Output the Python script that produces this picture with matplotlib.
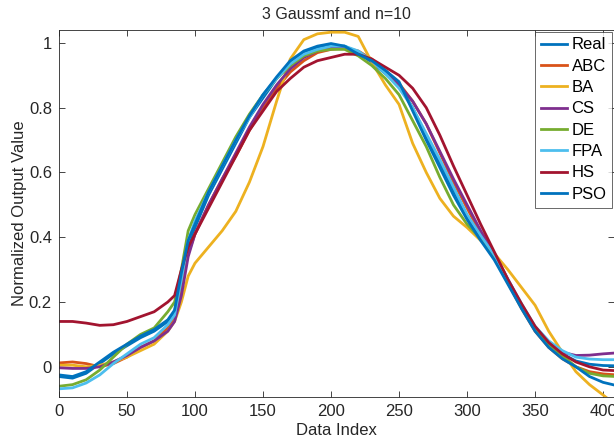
import numpy as np
import matplotlib
matplotlib.use('Agg')
import matplotlib.pyplot as plt

plt.rcParams['font.family'] = ['Liberation Sans', 'DejaVu Sans']

# data index (shared x grid)
idx = [0, 10, 20, 30, 40, 50, 60, 70, 80, 85, 90, 95, 100, 110, 120, 130, 140,
       150, 160, 170, 180, 190, 200, 210, 220, 230, 240, 250, 260, 270, 280,
       290, 300, 310, 320, 330, 340, 350, 360, 370, 380, 390, 400, 410]

real = [-0.03, -0.035, -0.02, 0.01, 0.04, 0.065, 0.09, 0.11, 0.14, 0.17, 0.28, 0.38,
        0.43, 0.53, 0.61, 0.69, 0.77, 0.83, 0.89, 0.94, 0.97, 0.985, 0.99, 0.99,
        0.97, 0.94, 0.905, 0.87, 0.80, 0.71, 0.63, 0.545, 0.465, 0.40, 0.34, 0.265,
        0.19, 0.12, 0.075, 0.04, 0.018, 0.008, 0.004, 0.003]
abc = [0.012, 0.015, 0.01, 0.0, 0.01, 0.03, 0.06, 0.08, 0.12, 0.15, 0.25, 0.35,
       0.41, 0.50, 0.58, 0.65, 0.73, 0.80, 0.86, 0.91, 0.945, 0.97, 0.98, 0.985,
       0.975, 0.95, 0.915, 0.875, 0.82, 0.75, 0.66, 0.57, 0.49, 0.41, 0.34, 0.26,
       0.18, 0.11, 0.06, 0.025, 0.0, -0.015, -0.022, -0.025]
ba = [0.005, 0.005, 0.0, 0.005, 0.015, 0.03, 0.05, 0.07, 0.11, 0.14, 0.2, 0.28,
      0.32, 0.37, 0.42, 0.48, 0.57, 0.68, 0.82, 0.95, 1.01, 1.028, 1.033, 1.033,
      1.02, 0.94, 0.87, 0.81, 0.69, 0.60, 0.52, 0.465, 0.43, 0.39, 0.35, 0.30,
      0.245, 0.19, 0.11, 0.045, -0.015, -0.055, -0.087, -0.12]
cs = [-0.003, -0.005, -0.005, 0.0, 0.015, 0.035, 0.06, 0.08, 0.11, 0.14, 0.22, 0.34,
      0.41, 0.50, 0.58, 0.66, 0.74, 0.81, 0.87, 0.92, 0.955, 0.975, 0.985, 0.985,
      0.97, 0.945, 0.91, 0.87, 0.82, 0.75, 0.665, 0.58, 0.50, 0.42, 0.35, 0.27,
      0.19, 0.12, 0.07, 0.045, 0.035, 0.036, 0.04, 0.043]
de = [-0.06, -0.055, -0.04, -0.01, 0.03, 0.07, 0.1, 0.12, 0.17, 0.2, 0.3, 0.42,
      0.47, 0.55, 0.63, 0.71, 0.78, 0.84, 0.89, 0.93, 0.96, 0.975, 0.98, 0.98,
      0.96, 0.93, 0.89, 0.84, 0.76, 0.68, 0.585, 0.50, 0.44, 0.395, 0.34, 0.265,
      0.19, 0.12, 0.07, 0.035, 0.0, -0.02, -0.028, -0.03]
fpa = [-0.068, -0.065, -0.05, -0.025, 0.01, 0.04, 0.07, 0.09, 0.13, 0.16, 0.27, 0.39,
       0.45, 0.54, 0.62, 0.70, 0.77, 0.84, 0.89, 0.935, 0.965, 0.98, 0.99, 0.99,
       0.975, 0.945, 0.905, 0.86, 0.80, 0.72, 0.64, 0.555, 0.47, 0.405, 0.345, 0.27,
       0.195, 0.125, 0.08, 0.05, 0.03, 0.024, 0.022, 0.022]
hs = [0.14, 0.14, 0.135, 0.128, 0.13, 0.14, 0.155, 0.17, 0.2, 0.22, 0.3, 0.37,
      0.41, 0.49, 0.57, 0.65, 0.73, 0.79, 0.85, 0.89, 0.925, 0.945, 0.955, 0.965,
      0.965, 0.95, 0.925, 0.90, 0.86, 0.80, 0.715, 0.62, 0.53, 0.44, 0.355, 0.27,
      0.195, 0.125, 0.075, 0.04, 0.015, 0.0, -0.01, -0.012]
pso = [-0.025, -0.03, -0.015, 0.015, 0.045, 0.07, 0.095, 0.115, 0.145, 0.175, 0.29, 0.39,
       0.44, 0.54, 0.62, 0.70, 0.775, 0.84, 0.895, 0.945, 0.975, 0.99, 0.998, 0.99,
       0.965, 0.945, 0.915, 0.88, 0.79, 0.70, 0.615, 0.53, 0.455, 0.39, 0.33, 0.255,
       0.18, 0.11, 0.06, 0.025, 0.0, -0.03, -0.048, -0.058]

names = ['Real', 'ABC', 'BA', 'CS', 'DE', 'FPA', 'HS', 'PSO']
series = [real, abc, ba, cs, de, fpa, hs, pso]
colors = ['#0072BD', '#D95319', '#EDB120', '#7E2F8E', '#77AC30', '#4DBEEE',
          '#A2142F', '#0072BD']

fig = plt.figure(figsize=(6.14, 4.47), dpi=100)
ax = fig.add_axes([0.096, 0.112, 0.904, 0.821])

for name, ys, c in zip(names, series, colors):
    ax.plot(idx, ys, color=c, linewidth=2, label=name)

ax.set_xlim(0, 408)
ax.set_ylim(-0.093, 1.04)
ax.set_xticks(np.arange(0, 401, 50))
ax.set_yticks([0, 0.2, 0.4, 0.6, 0.8, 1])
ax.set_yticklabels(['0', '0.2', '0.4', '0.6', '0.8', '1'])
ax.tick_params(direction='in', top=True, right=True, labelsize=12, pad=5,
               color='#262626', labelcolor='#262626', length=4, width=0.6)
for s in ax.spines.values():
    s.set_color('#262626')
    s.set_linewidth(0.6)

ax.set_title('3 Gaussmf and n=10', fontsize=11.5, color='#262626', pad=8)
ax.set_xlabel('Data Index', fontsize=12, color='#262626', labelpad=3)
ax.set_ylabel('Normalized Output Value', fontsize=12, color='#262626', labelpad=1)

leg = ax.legend(loc='upper right', fontsize=12, frameon=True, fancybox=False,
                edgecolor='#262626', handlelength=1.6, handletextpad=0.25,
                borderpad=0.35, labelspacing=0.38, borderaxespad=0.1)
leg.get_frame().set_linewidth(0.6)

fig.savefig('out.png', dpi=100)
